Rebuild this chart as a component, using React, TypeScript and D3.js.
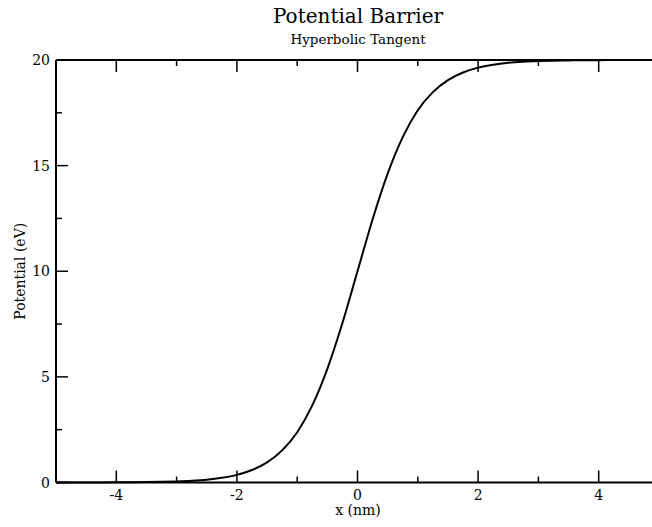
import React, { useRef, useEffect } from 'react';
import * as d3 from 'd3';

// x (nm) and potential (eV)
const xValues = [
  -5, -4.75, -4.5, -4.25, -4, -3.75, -3.5, -3.25, -3, -2.75, -2.5, -2.25, -2,
  -1.75, -1.5, -1.25, -1, -0.75, -0.5, -0.25, 0, 0.25, 0.5, 0.75, 1, 1.25,
  1.5, 1.75, 2, 2.25, 2.5, 2.75, 3, 3.25, 3.5, 3.75, 4, 4.25, 4.5, 4.75, 5,
];
const potential = [
  0.0, 0.0015, 0.0025, 0.004, 0.007, 0.011, 0.018, 0.03, 0.05, 0.08, 0.13,
  0.22, 0.36, 0.59, 0.95, 1.52, 2.38, 3.65, 5.38, 7.55, 10, 12.45, 14.62,
  16.35, 17.62, 18.48, 19.05, 19.41, 19.64, 19.78, 19.87, 19.92, 19.95,
  19.97, 19.98, 19.99, 19.993, 19.996, 19.998, 19.999, 20,
];
const xMajor = [-4, -2, 0, 2, 4];
const xMinor = [-3, -1, 1, 3];
const yMajor = [0, 5, 10, 15, 20];
const yMinor = [2.5, 7.5, 12.5, 17.5];

const title = 'Potential Barrier';
const subtitle = 'Hyperbolic Tangent';
const xLabel = 'x (nm)';
const yLabel = 'Potential (eV)';

const FONT = "'DejaVu Serif', serif";

export default function App() {
  const ref = useRef<SVGSVGElement | null>(null);

  useEffect(() => {
    if (!ref.current) return;
    const left = 56, top = 60, bottom = 482.5, right = 659;

    const svg = d3.select(ref.current);
    svg.selectAll('*').remove();

    const x = d3.scaleLinear().domain([-5, 5]).range([left, right]);
    const y = d3.scaleLinear().domain([0, 20]).range([bottom, top]);

    const data = xValues.map((v, i) => ({ x: v, y: potential[i] }));

    // curve
    const line = d3.line<{ x: number; y: number }>()
      .x(d => x(d.x))
      .y(d => y(d.y))
      .curve(d3.curveMonotoneX);

    svg.append('path')
      .datum(data)
      .attr('d', line)
      .attr('fill', 'none')
      .attr('stroke', '#000')
      .attr('stroke-width', 2);

    const axes = svg.append('g').attr('stroke', '#000').attr('stroke-width', 1.5);

    // frame
    axes.append('line').attr('x1', left).attr('x2', right).attr('y1', bottom).attr('y2', bottom).attr('stroke-width', 2);
    axes.append('line').attr('x1', left).attr('x2', right).attr('y1', top).attr('y2', top).attr('stroke-width', 2);
    axes.append('line').attr('x1', left).attr('x2', left).attr('y1', top).attr('y2', bottom).attr('stroke-width', 2);

    // x ticks, bottom and top, pointing inward
    xMajor.forEach(v => {
      axes.append('line').attr('x1', x(v)).attr('x2', x(v)).attr('y1', bottom).attr('y2', bottom - 12);
      axes.append('line').attr('x1', x(v)).attr('x2', x(v)).attr('y1', top).attr('y2', top + 12);
    });
    xMinor.forEach(v => {
      axes.append('line').attr('x1', x(v)).attr('x2', x(v)).attr('y1', bottom).attr('y2', bottom - 6);
      axes.append('line').attr('x1', x(v)).attr('x2', x(v)).attr('y1', top).attr('y2', top + 6);
    });
    yMajor.forEach(v => {
      axes.append('line').attr('x1', left).attr('x2', left + 12).attr('y1', y(v)).attr('y2', y(v));
    });
    yMinor.forEach(v => {
      axes.append('line').attr('x1', left).attr('x2', left + 6).attr('y1', y(v)).attr('y2', y(v));
    });

    const txt = svg.append('g').style('font-family', FONT);

    // tick labels
    txt.append('g')
      .selectAll('text')
      .data(xMajor)
      .join('text')
      .attr('x', d => x(d))
      .attr('y', bottom + 17)
      .attr('text-anchor', 'middle')
      .style('font-size', '14px')
      .text(d => (d < 0 ? '-' + Math.abs(d) : String(d)));

    txt.append('g')
      .selectAll('text')
      .data(yMajor)
      .join('text')
      .attr('x', left - 6)
      .attr('y', d => y(d) + 5)
      .attr('text-anchor', 'end')
      .style('font-size', '14px')
      .text(d => String(d));

    // titles
    txt.append('text')
      .attr('x', 358).attr('y', 23)
      .attr('text-anchor', 'middle')
      .style('font-size', '20px')
      .text(title);
    txt.append('text')
      .attr('x', 358).attr('y', 44)
      .attr('text-anchor', 'middle')
      .style('font-size', '13.5px')
      .text(subtitle);

    txt.append('text')
      .attr('x', 358).attr('y', 515)
      .attr('text-anchor', 'middle')
      .style('font-size', '14px')
      .text(xLabel);
    txt.append('text')
      .attr('transform', `translate(25, ${(top + bottom) / 2}) rotate(-90)`)
      .attr('text-anchor', 'middle')
      .style('font-size', '14px')
      .text(yLabel);
  }, []);

  return (
    <svg
      ref={ref}
      width={652}
      height={527}
      style={{ position: 'absolute', left: 0, top: 0, background: '#fff', display: 'block', fontFamily: FONT }}
    />
  );
}
